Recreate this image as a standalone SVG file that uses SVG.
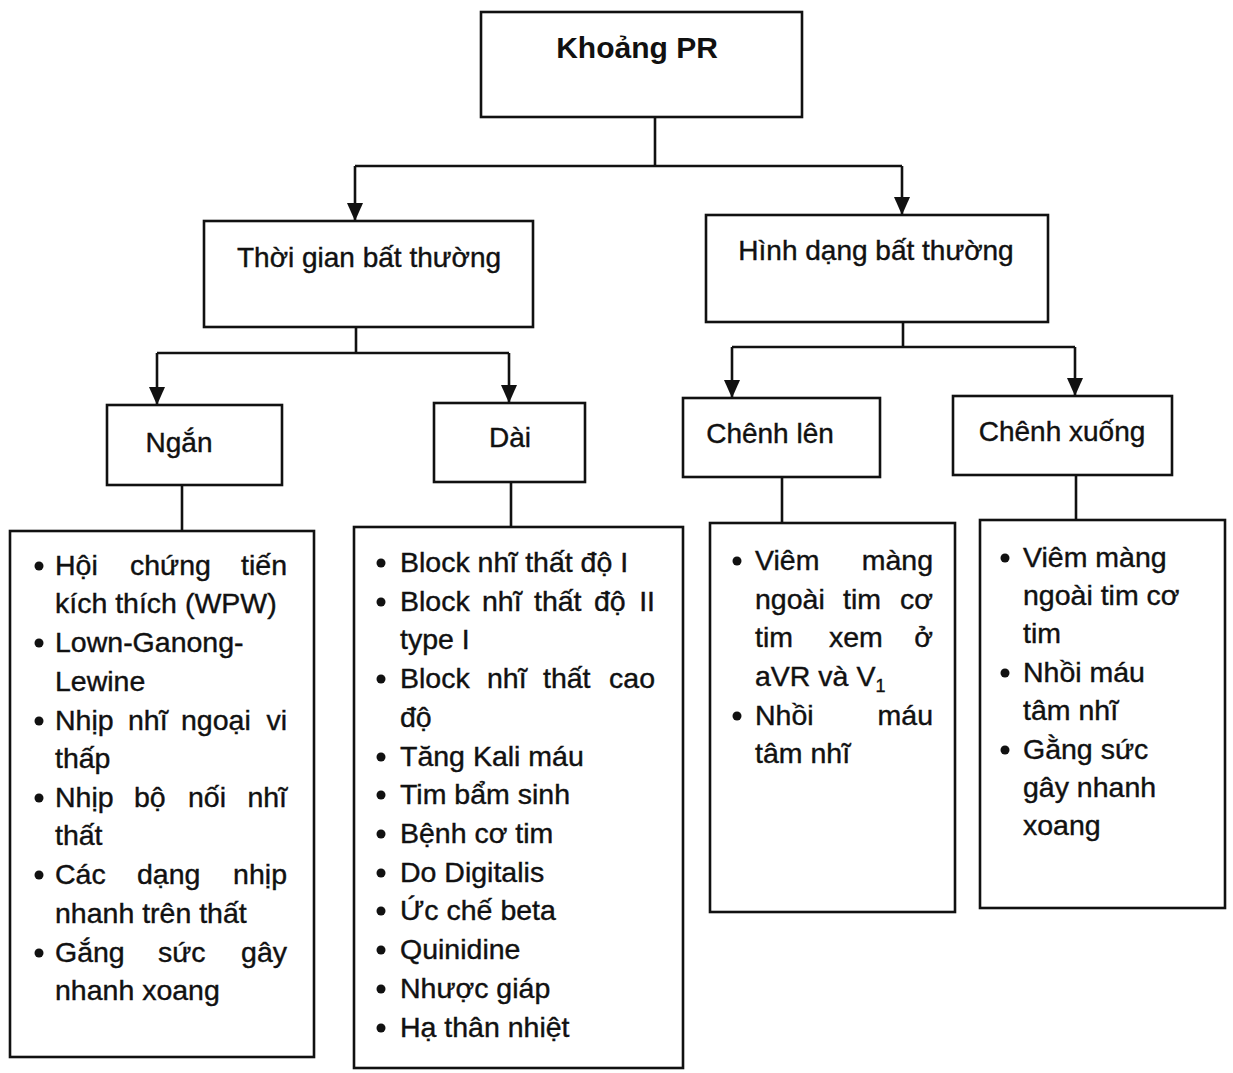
<svg xmlns="http://www.w3.org/2000/svg" width="1233" height="1073" viewBox="0 0 1233 1073">
  <style>
    .box { fill: #fff; stroke: #111; stroke-width: 2.6; }
    .edge { fill: none; stroke: #111; stroke-width: 2.6; }
    .title { font-family: "Liberation Sans", Arial, sans-serif; font-size: 30px; font-weight: bold; fill: #111; }
    .head { font-family: "Liberation Sans", Arial, sans-serif; font-size: 28px; fill: #111; stroke: #111; stroke-width: 0.4; text-anchor: middle; }
    .item { font-family: "Liberation Sans", Arial, sans-serif; font-size: 28.5px; fill: #111; stroke: #111; stroke-width: 0.4; }
    .end { text-anchor: end; }
    .dot { fill: #111; }
    .tip { fill: #111; }
  </style>
  <rect width="1233" height="1073" fill="#fff"/>

  <!-- connectors: trunk lines, branch bars and arrowheads -->
  <g id="connectors">
    <path class="edge" d="M655,117 V166"/>
    <path class="edge" d="M355,166 H902"/>
    <path class="edge" d="M355,166 V221"/>
    <path class="edge" d="M902,166 V215"/>
    <path class="edge" d="M356,327 V353"/>
    <path class="edge" d="M157,353 H509"/>
    <path class="edge" d="M157,353 V405"/>
    <path class="edge" d="M509,353 V403"/>
    <path class="edge" d="M903,322 V347"/>
    <path class="edge" d="M732,347 H1075"/>
    <path class="edge" d="M732,347 V398"/>
    <path class="edge" d="M1075,347 V396"/>
    <path class="edge" d="M182,485 V531"/>
    <path class="edge" d="M511,482 V527"/>
    <path class="edge" d="M782,477 V523"/>
    <path class="edge" d="M1076,475 V520"/>
    <path class="tip" d="M347,203 L363,203 L355,221 Z"/>
    <path class="tip" d="M894,197 L910,197 L902,215 Z"/>
    <path class="tip" d="M149,387 L165,387 L157,405 Z"/>
    <path class="tip" d="M501,385 L517,385 L509,403 Z"/>
    <path class="tip" d="M724,380 L740,380 L732,398 Z"/>
    <path class="tip" d="M1067,378 L1083,378 L1075,396 Z"/>
  </g>

  <g id="node-pr">
    <rect class="box" x="481" y="12" width="321" height="105"/>
    <text class="title" x="637" y="58" text-anchor="middle">Khoảng PR</text>
  </g>

  <g id="node-thoi-gian">
    <rect class="box" x="204" y="221" width="329" height="106"/>
    <text class="head" x="369" y="267">Thời gian bất thường</text>
  </g>

  <g id="node-hinh-dang">
    <rect class="box" x="706" y="215" width="342" height="107"/>
    <text class="head" x="876" y="260">Hình dạng bất thường</text>
  </g>

  <g id="node-ngan">
    <rect class="box" x="107" y="405" width="175" height="80"/>
    <text class="head" x="179" y="452">Ngắn</text>
  </g>

  <g id="node-dai">
    <rect class="box" x="434" y="403" width="151" height="79"/>
    <text class="head" x="510" y="447">Dài</text>
  </g>

  <g id="node-chenh-len">
    <rect class="box" x="683" y="398" width="197" height="79"/>
    <text class="head" x="770" y="443">Chênh lên</text>
  </g>

  <g id="node-chenh-xuong">
    <rect class="box" x="953" y="396" width="219" height="79"/>
    <text class="head" x="1062" y="441">Chênh xuống</text>
  </g>

  <!-- short PR causes -->
  <g id="list-ngan">
    <rect class="box" x="10" y="531" width="304" height="526"/>
    <circle class="dot" cx="39" cy="566" r="4.5"/>
    <text class="item" y="575"><tspan x="55">Hội</tspan><tspan x="130">chứng</tspan></text>
    <text class="item end" x="287" y="575">tiến</text>
    <text class="item" x="55" y="613">kích thích (WPW)</text>
    <circle class="dot" cx="39" cy="643" r="4.5"/>
    <text class="item" x="55" y="652">Lown-Ganong-</text>
    <text class="item" x="55" y="691">Lewine</text>
    <circle class="dot" cx="39" cy="721" r="4.5"/>
    <text class="item" y="730"><tspan x="55">Nhịp</tspan><tspan x="128">nhĩ</tspan><tspan x="181">ngoại</tspan></text>
    <text class="item end" x="287" y="730">vi</text>
    <text class="item" x="55" y="768">thấp</text>
    <circle class="dot" cx="39" cy="798" r="4.5"/>
    <text class="item" y="807"><tspan x="55">Nhịp</tspan><tspan x="134">bộ</tspan><tspan x="188">nối</tspan></text>
    <text class="item end" x="287" y="807">nhĩ</text>
    <text class="item" x="55" y="845">thất</text>
    <circle class="dot" cx="39" cy="875" r="4.5"/>
    <text class="item" y="884"><tspan x="55">Các</tspan><tspan x="137">dạng</tspan></text>
    <text class="item end" x="287" y="884">nhịp</text>
    <text class="item" x="55" y="923">nhanh trên thất</text>
    <circle class="dot" cx="39" cy="953" r="4.5"/>
    <text class="item" y="962"><tspan x="55">Gắng</tspan><tspan x="158">sức</tspan></text>
    <text class="item end" x="287" y="962">gây</text>
    <text class="item" x="55" y="1000">nhanh xoang</text>
  </g>

  <!-- long PR causes -->
  <g id="list-dai">
    <rect class="box" x="354" y="527" width="329" height="541"/>
    <circle class="dot" cx="381" cy="563" r="4.5"/>
    <text class="item" x="400" y="572">Block nhĩ thất độ I</text>
    <circle class="dot" cx="381" cy="602" r="4.5"/>
    <text class="item" y="611"><tspan x="400">Block</tspan><tspan x="482">nhĩ</tspan><tspan x="534">thất</tspan><tspan x="594">độ</tspan></text>
    <text class="item end" x="655" y="611">II</text>
    <text class="item" x="400" y="649">type I</text>
    <circle class="dot" cx="381" cy="679" r="4.5"/>
    <text class="item" y="688"><tspan x="400">Block</tspan><tspan x="487">nhĩ</tspan><tspan x="543">thất</tspan></text>
    <text class="item end" x="655" y="688">cao</text>
    <text class="item" x="400" y="727">độ</text>
    <circle class="dot" cx="381" cy="757" r="4.5"/>
    <text class="item" x="400" y="766">Tăng Kali máu</text>
    <circle class="dot" cx="381" cy="795" r="4.5"/>
    <text class="item" x="400" y="804">Tim bẩm sinh</text>
    <circle class="dot" cx="381" cy="834" r="4.5"/>
    <text class="item" x="400" y="843">Bệnh cơ tim</text>
    <circle class="dot" cx="381" cy="873" r="4.5"/>
    <text class="item" x="400" y="882">Do Digitalis</text>
    <circle class="dot" cx="381" cy="911" r="4.5"/>
    <text class="item" x="400" y="920">Ức chế beta</text>
    <circle class="dot" cx="381" cy="950" r="4.5"/>
    <text class="item" x="400" y="959">Quinidine</text>
    <circle class="dot" cx="381" cy="989" r="4.5"/>
    <text class="item" x="400" y="998">Nhược giáp</text>
    <circle class="dot" cx="381" cy="1028" r="4.5"/>
    <text class="item" x="400" y="1037">Hạ thân nhiệt</text>
  </g>

  <!-- elevated PR segment -->
  <g id="list-chenh-len">
    <rect class="box" x="710" y="523" width="245" height="389"/>
    <circle class="dot" cx="737" cy="561" r="4.5"/>
    <text class="item" x="755" y="570">Viêm</text>
    <text class="item end" x="933" y="570">màng</text>
    <text class="item" y="609"><tspan x="755">ngoài</tspan><tspan x="843">tim</tspan></text>
    <text class="item end" x="933" y="609">cơ</text>
    <text class="item" y="647"><tspan x="755">tim</tspan><tspan x="829">xem</tspan></text>
    <text class="item end" x="933" y="647">ở</text>
    <text class="item" x="755" y="686">aVR và V<tspan font-size="18" dy="6">1</tspan></text>
    <circle class="dot" cx="737" cy="716" r="4.5"/>
    <text class="item" x="755" y="725">Nhồi</text>
    <text class="item end" x="933" y="725">máu</text>
    <text class="item" x="755" y="763">tâm nhĩ</text>
  </g>

  <!-- depressed PR segment -->
  <g id="list-chenh-xuong">
    <rect class="box" x="980" y="520" width="245" height="388"/>
    <circle class="dot" cx="1005" cy="558" r="4.5"/>
    <text class="item" x="1023" y="567">Viêm màng</text>
    <text class="item" x="1023" y="605">ngoài tim cơ</text>
    <text class="item" x="1023" y="643">tim</text>
    <circle class="dot" cx="1005" cy="673" r="4.5"/>
    <text class="item" x="1023" y="682">Nhồi máu</text>
    <text class="item" x="1023" y="720">tâm nhĩ</text>
    <circle class="dot" cx="1005" cy="750" r="4.5"/>
    <text class="item" x="1023" y="759">Gằng sức</text>
    <text class="item" x="1023" y="797">gây nhanh</text>
    <text class="item" x="1023" y="835">xoang</text>
  </g>
</svg>
